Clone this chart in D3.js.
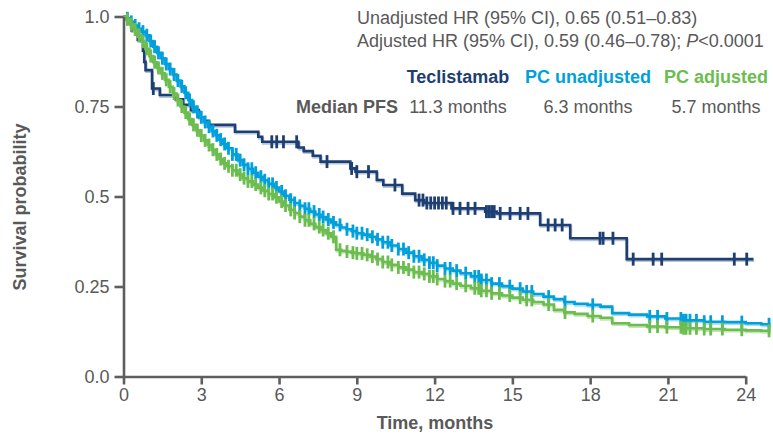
<!DOCTYPE html>
<html>
<head>
<meta charset="utf-8">
<script src="https://cdn.jsdelivr.net/npm/d3@7"></script>
<style>
  html, body { margin: 0; padding: 0; background: #fff; }
  svg { display: block; font-family: "Liberation Sans", Arial, sans-serif; }
</style>
</head>
<body>
<svg id="chart" width="773" height="437"></svg>
<script>
// ---------------- DATA ----------------
const xTicks = [0, 3, 6, 9, 12, 15, 18, 21, 24];
const yTicks = [0, 0.25, 0.5, 0.75, 1.0];
const yTickLabels = ["0.0", "0.25", "0.5", "0.75", "1.0"];

const seriesNames = ["Teclistamab", "PC unadjusted", "PC adjusted"];
const medianPFS = ["11.3 months", "6.3 months", "5.7 months"];
const hrLines = ["Unadjusted HR (95% CI), 0.65 (0.51\u20130.83)",
                 "Adjusted HR (95% CI), 0.59 (0.46\u20130.78); "];
const pValueText = ["P", "<0.0001"];

// Teclistamab KM step curve
const tecTimes = [0, 0.15, 0.3, 0.55, 0.75, 0.8, 0.85, 1.1, 1.4, 2.0, 2.3, 2.6, 2.9, 3.1, 3.3,
  4.3, 5.2, 5.35, 6.75, 6.95, 7.3, 7.6, 8.75, 8.95, 9.77, 10.02, 10.75, 11.25, 11.6,
  12.65, 13.95, 14.4, 16.07, 17.23, 19.41];
const tecSurv = [1.0, 0.985, 0.962, 0.935, 0.905, 0.874, 0.851, 0.80, 0.782, 0.77, 0.755, 0.74, 0.72, 0.71, 0.699,
  0.68, 0.666, 0.652, 0.636, 0.626, 0.613, 0.597, 0.578, 0.569, 0.546, 0.532, 0.508, 0.49, 0.482,
  0.467, 0.458, 0.453, 0.421, 0.384, 0.326];
const tecEnd = 24.3;
const tecCensor = [1.15, 5.72, 5.91, 6.17, 6.68, 7.85, 8.8, 9.0, 9.45, 10.47, 11.4, 11.55, 11.7, 11.85,
  12.0, 12.15, 12.3, 12.45, 12.71, 12.98, 13.29, 13.56, 14.0, 14.1, 14.2, 14.3, 14.53, 14.91, 15.3,
  15.6, 16.38, 16.65, 16.92, 18.38, 18.5, 18.88, 19.66, 20.43, 20.76, 23.56, 24.04];

// Physician's choice (shared event/censor times, unadjusted vs adjusted survival)
const pcTimes = [0, 0.1, 0.25, 0.4, 0.55, 0.7, 0.85, 1.0, 1.15, 1.3, 1.45, 1.6, 1.75, 1.9, 2.05, 2.2,
  2.35, 2.5, 2.65, 2.8, 2.95, 3.1, 3.25, 3.4, 3.55, 3.7, 3.85, 4.0, 4.2, 4.4, 4.6, 4.8, 5.0, 5.2,
  5.4, 5.6, 5.8, 6.0, 6.2, 6.4, 6.6, 6.8, 7.0, 7.2, 7.4, 7.6, 7.8, 8.0, 8.2, 8.4, 8.6, 8.8, 9.0,
  9.25, 9.5, 9.75, 10.0, 10.3, 10.6, 10.9, 11.2, 11.5, 11.8, 12.1, 12.4, 12.7, 13.0, 13.4, 13.8,
  14.2, 14.6, 15.0, 15.4, 15.8, 16.2, 16.6, 17.0, 17.4, 17.9, 18.4, 18.85, 19.5, 20.2, 20.9,
  21.6, 22.4, 23.2, 24.0, 24.6];
const pcUnadjSurv = [1.0, 0.995, 0.985, 0.975, 0.966, 0.958, 0.948, 0.932, 0.916, 0.899, 0.884, 0.868,
  0.854, 0.839, 0.822, 0.806, 0.788, 0.768, 0.749, 0.735, 0.72, 0.707, 0.694, 0.682, 0.67, 0.658,
  0.646, 0.634, 0.617, 0.601, 0.588, 0.577, 0.566, 0.555, 0.545, 0.535, 0.525, 0.514, 0.502, 0.491,
  0.482, 0.474, 0.466, 0.458, 0.45, 0.443, 0.436, 0.428, 0.421, 0.414, 0.409, 0.404, 0.398, 0.394,
  0.388, 0.381, 0.373, 0.364, 0.354, 0.344, 0.334, 0.324, 0.316, 0.308, 0.30, 0.294, 0.287, 0.278,
  0.268, 0.258, 0.251, 0.244, 0.236, 0.229, 0.222, 0.215, 0.207, 0.202, 0.199, 0.194, 0.176, 0.172,
  0.167, 0.161, 0.156, 0.152, 0.151, 0.148, 0.145];
const pcAdjSurv = [1.0, 0.992, 0.978, 0.964, 0.948, 0.93, 0.91, 0.89, 0.873, 0.857, 0.842, 0.824,
  0.805, 0.786, 0.768, 0.75, 0.733, 0.715, 0.699, 0.684, 0.669, 0.656, 0.643, 0.63, 0.617, 0.604,
  0.592, 0.584, 0.573, 0.561, 0.551, 0.542, 0.533, 0.524, 0.516, 0.507, 0.498, 0.486, 0.475, 0.463,
  0.454, 0.444, 0.434, 0.424, 0.415, 0.407, 0.398, 0.388, 0.352, 0.349, 0.347, 0.344, 0.342, 0.338,
  0.333, 0.326, 0.318, 0.31, 0.303, 0.297, 0.29, 0.285, 0.278, 0.271, 0.265, 0.258, 0.252, 0.245,
  0.238, 0.231, 0.225, 0.219, 0.213, 0.207, 0.20, 0.185, 0.178, 0.174, 0.168, 0.163, 0.148, 0.143,
  0.139, 0.137, 0.134, 0.132, 0.13, 0.128, 0.127];
const pcEnd = 24.95;
const pcCensor = [0.15, 0.3, 0.45, 0.6, 0.75, 0.9, 1.05, 1.2, 1.35, 1.5, 1.65, 1.8, 1.95, 2.1, 2.25,
  2.4, 2.55, 2.7, 2.85, 3.0, 3.15, 3.3, 3.45, 3.6, 3.75, 3.9, 4.05, 4.2, 4.35, 4.5, 4.65, 4.8, 4.95,
  5.1, 5.3, 5.45, 5.6, 5.75, 5.9, 6.1, 6.25, 6.45, 6.6, 6.8, 7.0, 7.15, 7.35, 7.55, 7.7, 7.9, 8.1,
  8.35, 8.62, 8.85, 9.0, 9.2, 9.4, 9.6, 9.8, 10.0, 10.2, 10.35, 10.6, 10.8, 11.0, 11.2, 11.4, 11.6,
  11.8, 11.95, 12.1, 12.4, 12.6, 12.85, 13.2, 13.55, 13.7, 13.8, 14.0, 14.2, 14.5, 14.9, 15.3, 15.55,
  15.75, 16.4, 17.03, 18.1, 20.3, 20.6, 20.96, 21.5, 21.6, 21.7, 21.85, 22.1, 22.4, 22.65, 23.1,
  23.85, 24.9];

// ---------------- STYLE ----------------
const colors = ["#1d3f73", "#00a0dc", "#6cbd4f"];
const shadowColors = ["#b7c3d6", "#a9dcf0", "#c4e4b8"];
const textGray = "#595959";
const axisGray = "#5e5e5e";

// ---------------- CHART ----------------
const svg = d3.select("#chart");
const x = d3.scaleLinear().domain([0, 24]).range([123.5, 745.7]);
const y = d3.scaleLinear().domain([0, 1]).range([376.5, 16.5]);

function stepPoints(times, surv, end) {
  const pts = times.map((t, i) => [t, surv[i]]);
  pts.push([end, surv[surv.length - 1]]);
  return pts;
}
function survAt(times, surv, t) {
  const i = d3.bisectRight(times, t) - 1;
  return surv[Math.max(0, i)];
}
const line = d3.line().x(d => x(d[0])).y(d => y(d[1])).curve(d3.curveStepAfter);

const series = [
  { times: tecTimes, surv: tecSurv, end: tecEnd, censor: tecCensor },
  { times: pcTimes, surv: pcUnadjSurv, end: pcEnd, censor: pcCensor },
  { times: pcTimes, surv: pcAdjSurv, end: pcEnd, censor: pcCensor }
];

const plot = svg.append("g");
series.forEach((s, k) => {
  const pts = stepPoints(s.times, s.surv, s.end);
  const g = plot.append("g");
  g.append("path").attr("d", line(pts))
    .attr("fill", "none").attr("stroke", shadowColors[k]).attr("stroke-width", 2.6)
    .attr("transform", "translate(0.8,1.6)");
  g.append("path").attr("d", line(pts))
    .attr("fill", "none").attr("stroke", colors[k]).attr("stroke-width", 2.6);
  g.selectAll("line.c").data(s.censor).enter().append("line")
    .attr("x1", d => x(d)).attr("x2", d => x(d))
    .attr("y1", d => y(survAt(s.times, s.surv, d)) - 6.5)
    .attr("y2", d => y(survAt(s.times, s.surv, d)) + 6.5)
    .attr("stroke", colors[k]).attr("stroke-width", 2.8);
});

// Axes
const yAxis = d3.axisLeft(y).tickValues(yTicks)
  .tickFormat((d, i) => yTickLabels[i]).tickSize(9).tickSizeOuter(0).tickPadding(5);
const xAxis = d3.axisBottom(x).tickValues(xTicks)
  .tickFormat(d => String(d)).tickSize(8).tickSizeOuter(0).tickPadding(4);

const gy = svg.append("g").attr("transform", "translate(123.5,0)").call(yAxis);
const gx = svg.append("g").attr("transform", "translate(0,376.5)").call(xAxis);
[gx, gy].forEach(g => {
  g.select(".domain").attr("stroke", axisGray).attr("stroke-width", 2.6);
  g.selectAll(".tick line").attr("stroke", axisGray).attr("stroke-width", 2.6);
  g.selectAll(".tick text").attr("fill", textGray)
    .style("font-size", "18px").style("font-family", "'Liberation Sans', Arial, sans-serif");
});

// Axis titles
svg.append("text").attr("x", 435).attr("y", 429).attr("text-anchor", "middle")
  .attr("fill", textGray).style("font-size", "18px").style("font-weight", "bold")
  .text("Time, months");
svg.append("text").attr("transform", "translate(26,207) rotate(-90)").attr("text-anchor", "middle")
  .attr("fill", textGray).style("font-size", "18px").style("font-weight", "bold")
  .text("Survival probability");

// HR annotation
svg.append("text").attr("x", 357).attr("y", 24).attr("fill", textGray)
  .style("font-size", "18px").text(hrLines[0]);
const t2 = svg.append("text").attr("x", 357).attr("y", 47).attr("fill", textGray)
  .style("font-size", "18px");
t2.append("tspan").text(hrLines[1]);
t2.append("tspan").style("font-style", "italic").text(pValueText[0]);
t2.append("tspan").text(pValueText[1]);

// Legend / median PFS table
const legendX = [458, 588, 716];
seriesNames.forEach((n, i) => {
  svg.append("text").attr("x", legendX[i]).attr("y", 83).attr("text-anchor", "middle")
    .attr("fill", colors[i]).style("font-size", "18px").style("font-weight", "bold").text(n);
  svg.append("text").attr("x", legendX[i]).attr("y", 113).attr("text-anchor", "middle")
    .attr("fill", textGray).style("font-size", "18px").text(medianPFS[i]);
});
svg.append("text").attr("x", 398).attr("y", 113).attr("text-anchor", "end")
  .attr("fill", textGray).style("font-size", "18px").style("font-weight", "bold").text("Median PFS");
</script>
</body>
</html>
